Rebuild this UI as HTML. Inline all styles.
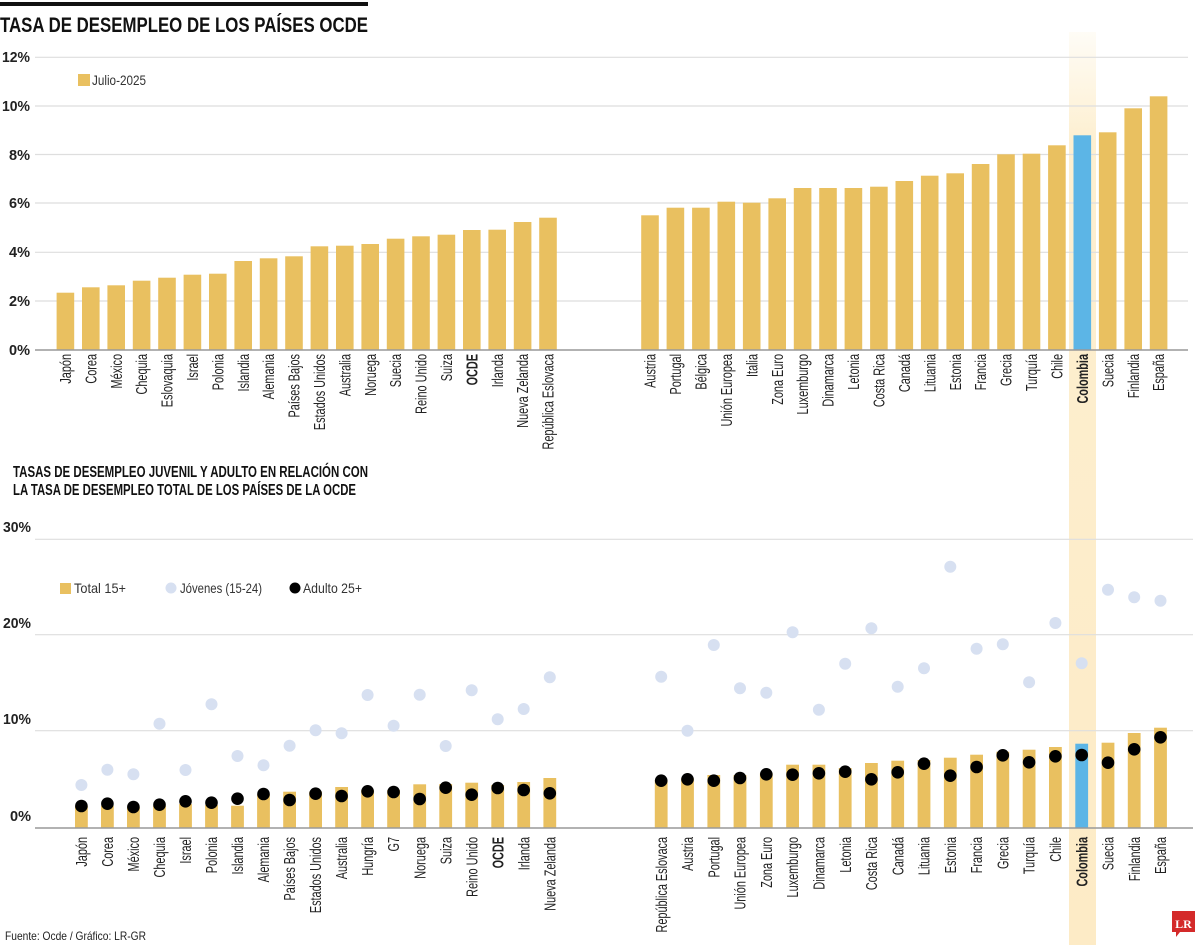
<!DOCTYPE html>
<html><head><meta charset="utf-8"><style>
html,body{margin:0;padding:0;background:#fff;}
svg{display:block;font-family:"Liberation Sans",sans-serif;}
.yl{font-size:15px;font-weight:bold;fill:#222;}
.xl text{font-size:16px;fill:#222;}
.b{font-weight:bold;}
</style></head><body>
<svg width="1200" height="945" viewBox="0 0 1200 945" xmlns="http://www.w3.org/2000/svg">
<defs><linearGradient id="hg" x1="0" y1="0" x2="0" y2="1"><stop offset="0" stop-color="#fdf0d2" stop-opacity="0.2"/><stop offset="0.12" stop-color="#fdefd0" stop-opacity="1"/><stop offset="1" stop-color="#fdebc6"/></linearGradient></defs>
<rect x="0" y="2" width="368" height="4" fill="#111"/>
<text x="0" y="32" font-size="21" font-weight="bold" fill="#111" textLength="368" lengthAdjust="spacingAndGlyphs">TASA DE DESEMPLEO DE LOS PAÍSES OCDE</text>
<rect x="1069" y="32" width="27" height="913" fill="url(#hg)"/>
<g stroke="#dedede" stroke-width="1.2">
<line x1="35" y1="57.3" x2="1188" y2="57.3"/><line x1="35" y1="106" x2="1188" y2="106"/><line x1="35" y1="154.5" x2="1188" y2="154.5"/><line x1="35" y1="203" x2="1188" y2="203"/><line x1="35" y1="252.3" x2="1188" y2="252.3"/><line x1="35" y1="301" x2="1188" y2="301"/>
</g>
<g class="yl">
<text x="2" y="62" textLength="28" lengthAdjust="spacingAndGlyphs">12%</text>
<text x="2" y="111" textLength="28" lengthAdjust="spacingAndGlyphs">10%</text>
<text x="9" y="160" textLength="21" lengthAdjust="spacingAndGlyphs">8%</text>
<text x="9" y="208" textLength="21" lengthAdjust="spacingAndGlyphs">6%</text>
<text x="9" y="257" textLength="21" lengthAdjust="spacingAndGlyphs">4%</text>
<text x="9" y="306" textLength="21" lengthAdjust="spacingAndGlyphs">2%</text>
<text x="9" y="355" textLength="21" lengthAdjust="spacingAndGlyphs">0%</text>
</g>
<rect x="78" y="74" width="12" height="12" fill="#e9c060"/>
<text x="92" y="85" font-size="14" fill="#333" textLength="54" lengthAdjust="spacingAndGlyphs">Julio-2025</text>
<g fill="#e9c060">
<rect x="56.6" y="292.7" width="17.6" height="57.3"/><rect x="82" y="287.3" width="17.6" height="62.7"/><rect x="107.4" y="285.3" width="17.6" height="64.7"/><rect x="132.8" y="280.7" width="17.6" height="69.3"/><rect x="158.2" y="277.7" width="17.6" height="72.3"/><rect x="183.6" y="274.7" width="17.6" height="75.3"/><rect x="209" y="273.7" width="17.6" height="76.3"/><rect x="234.4" y="261" width="17.6" height="89"/><rect x="259.8" y="258.3" width="17.6" height="91.7"/><rect x="285.2" y="256.3" width="17.6" height="93.7"/><rect x="310.6" y="246.3" width="17.6" height="103.7"/><rect x="336" y="245.7" width="17.6" height="104.3"/><rect x="361.4" y="244" width="17.6" height="106"/><rect x="386.8" y="238.7" width="17.6" height="111.3"/><rect x="412.2" y="236.3" width="17.6" height="113.7"/><rect x="437.6" y="234.7" width="17.6" height="115.3"/><rect x="463" y="230" width="17.6" height="120"/><rect x="488.4" y="229.7" width="17.6" height="120.3"/><rect x="513.8" y="222" width="17.6" height="128"/><rect x="539.2" y="217.7" width="17.6" height="132.3"/>
<rect x="641.2" y="215.3" width="17.6" height="134.7"/><rect x="666.6" y="207.7" width="17.6" height="142.3"/><rect x="692.1" y="207.7" width="17.6" height="142.3"/><rect x="717.5" y="201.7" width="17.6" height="148.3"/><rect x="742.9" y="202.7" width="17.6" height="147.3"/><rect x="768.4" y="198.3" width="17.6" height="151.7"/><rect x="793.8" y="188" width="17.6" height="162"/><rect x="819.2" y="188" width="17.6" height="162"/><rect x="844.6" y="188" width="17.6" height="162"/><rect x="870.1" y="186.7" width="17.6" height="163.3"/><rect x="895.5" y="181" width="17.6" height="169"/><rect x="920.9" y="175.7" width="17.6" height="174.3"/><rect x="946.4" y="173.3" width="17.6" height="176.7"/><rect x="971.8" y="164" width="17.6" height="186"/><rect x="997.2" y="154.3" width="17.6" height="195.7"/><rect x="1022.7" y="153.7" width="17.6" height="196.3"/><rect x="1048.1" y="145.3" width="17.6" height="204.7"/><rect x="1073.5" y="135.3" width="17.6" height="214.7" fill="#5cb5e6"/><rect x="1098.9" y="132.3" width="17.6" height="217.7"/><rect x="1124.4" y="108.3" width="17.6" height="241.7"/><rect x="1149.8" y="96.3" width="17.6" height="253.7"/>
</g>
<line x1="35" y1="350" x2="1188" y2="350" stroke="#999" stroke-width="1.5"/>
<g class="xl" text-anchor="end">
<text transform="translate(71,354) rotate(-90) scale(0.68,1)">Japón</text>
<text transform="translate(96.4,354) rotate(-90) scale(0.68,1)">Corea</text>
<text transform="translate(121.8,354) rotate(-90) scale(0.68,1)">México</text>
<text transform="translate(147.2,354) rotate(-90) scale(0.68,1)">Chequia</text>
<text transform="translate(172.6,354) rotate(-90) scale(0.68,1)">Eslovaquia</text>
<text transform="translate(198,354) rotate(-90) scale(0.68,1)">Israel</text>
<text transform="translate(223.4,354) rotate(-90) scale(0.68,1)">Polonia</text>
<text transform="translate(248.8,354) rotate(-90) scale(0.68,1)">Islandia</text>
<text transform="translate(274.2,354) rotate(-90) scale(0.68,1)">Alemania</text>
<text transform="translate(299.6,354) rotate(-90) scale(0.68,1)">Países Bajos</text>
<text transform="translate(325,354) rotate(-90) scale(0.68,1)">Estados Unidos</text>
<text transform="translate(350.4,354) rotate(-90) scale(0.68,1)">Australia</text>
<text transform="translate(375.8,354) rotate(-90) scale(0.68,1)">Noruega</text>
<text transform="translate(401.2,354) rotate(-90) scale(0.68,1)">Suecia</text>
<text transform="translate(426.6,354) rotate(-90) scale(0.68,1)">Reino Unido</text>
<text transform="translate(452,354) rotate(-90) scale(0.68,1)">Suiza</text>
<text class="b" transform="translate(477.4,354) rotate(-90) scale(0.68,1)">OCDE</text>
<text transform="translate(502.8,354) rotate(-90) scale(0.68,1)">Irlanda</text>
<text transform="translate(528.2,354) rotate(-90) scale(0.68,1)">Nueva Zelanda</text>
<text transform="translate(553.6,354) rotate(-90) scale(0.68,1)">República Eslovaca</text>
<text transform="translate(655.6,354) rotate(-90) scale(0.68,1)">Austria</text>
<text transform="translate(681,354) rotate(-90) scale(0.68,1)">Portugal</text>
<text transform="translate(706.5,354) rotate(-90) scale(0.68,1)">Bélgica</text>
<text transform="translate(731.9,354) rotate(-90) scale(0.68,1)">Unión Europea</text>
<text transform="translate(757.3,354) rotate(-90) scale(0.68,1)">Italia</text>
<text transform="translate(782.8,354) rotate(-90) scale(0.68,1)">Zona Euro</text>
<text transform="translate(808.2,354) rotate(-90) scale(0.68,1)">Luxemburgo</text>
<text transform="translate(833.6,354) rotate(-90) scale(0.68,1)">Dinamarca</text>
<text transform="translate(859,354) rotate(-90) scale(0.68,1)">Letonia</text>
<text transform="translate(884.5,354) rotate(-90) scale(0.68,1)">Costa Rica</text>
<text transform="translate(909.9,354) rotate(-90) scale(0.68,1)">Canadá</text>
<text transform="translate(935.3,354) rotate(-90) scale(0.68,1)">Lituania</text>
<text transform="translate(960.8,354) rotate(-90) scale(0.68,1)">Estonia</text>
<text transform="translate(986.2,354) rotate(-90) scale(0.68,1)">Francia</text>
<text transform="translate(1011.6,354) rotate(-90) scale(0.68,1)">Grecia</text>
<text transform="translate(1037.1,354) rotate(-90) scale(0.68,1)">Turquía</text>
<text transform="translate(1062.5,354) rotate(-90) scale(0.68,1)">Chile</text>
<text class="b" transform="translate(1087.9,354) rotate(-90) scale(0.68,1)">Colombia</text>
<text transform="translate(1113.3,354) rotate(-90) scale(0.68,1)">Suecia</text>
<text transform="translate(1138.8,354) rotate(-90) scale(0.68,1)">Finlandia</text>
<text transform="translate(1164.2,354) rotate(-90) scale(0.68,1)">España</text>
</g>

<text x="13" y="477" font-size="16" font-weight="bold" fill="#111" textLength="355" lengthAdjust="spacingAndGlyphs">TASAS DE DESEMPLEO JUVENIL Y ADULTO EN RELACIÓN CON</text>
<text x="13" y="495" font-size="16" font-weight="bold" fill="#111" textLength="343" lengthAdjust="spacingAndGlyphs">LA TASA DE DESEMPLEO TOTAL DE LOS PAÍSES DE LA OCDE</text>
<g stroke="#dedede" stroke-width="1.2">
<line x1="35" y1="539.3" x2="1193" y2="539.3"/><line x1="35" y1="634.7" x2="1193" y2="634.7"/><line x1="35" y1="730.7" x2="1193" y2="730.7"/>
</g>
<g class="yl">
<text x="3" y="532" textLength="28" lengthAdjust="spacingAndGlyphs">30%</text>
<text x="3" y="628" textLength="28" lengthAdjust="spacingAndGlyphs">20%</text>
<text x="3" y="724" textLength="28" lengthAdjust="spacingAndGlyphs">10%</text>
<text x="10" y="821" textLength="21" lengthAdjust="spacingAndGlyphs">0%</text>
</g>
<rect x="60" y="583" width="11" height="11" fill="#e9c060"/>
<text x="74" y="593" font-size="14" fill="#333" textLength="52" lengthAdjust="spacingAndGlyphs">Total  15+</text>
<circle cx="171" cy="588" r="5.5" fill="#d7e0f1"/>
<text x="180" y="593" font-size="14" fill="#333" textLength="82" lengthAdjust="spacingAndGlyphs">Jóvenes (15-24)</text>
<circle cx="295" cy="588" r="5.5" fill="#000"/>
<text x="303" y="593" font-size="14" fill="#333" textLength="59" lengthAdjust="spacingAndGlyphs">Adulto 25+</text>
<g fill="#e9c060">
<rect x="75" y="805.7" width="12.8" height="22.3"/><rect x="101" y="805.7" width="12.8" height="22.3"/><rect x="127" y="806.7" width="12.8" height="21.3"/><rect x="153.1" y="805.7" width="12.8" height="22.3"/><rect x="179.1" y="804" width="12.8" height="24"/><rect x="205.1" y="805" width="12.8" height="23"/><rect x="231.1" y="805.7" width="12.8" height="22.3"/><rect x="257.1" y="794.3" width="12.8" height="33.7"/><rect x="283.2" y="791.7" width="12.8" height="36.3"/><rect x="309.2" y="791.7" width="12.8" height="36.3"/><rect x="335.2" y="787" width="12.8" height="41"/><rect x="361.2" y="790" width="12.8" height="38"/><rect x="387.2" y="790" width="12.8" height="38"/><rect x="413.3" y="784.3" width="12.8" height="43.7"/><rect x="439.3" y="784" width="12.8" height="44"/><rect x="465.3" y="782.7" width="12.8" height="45.3"/><rect x="491.3" y="785" width="12.8" height="43"/><rect x="517.3" y="782" width="12.8" height="46"/><rect x="543.4" y="778" width="12.8" height="50"/>
<rect x="654.8" y="780" width="12.8" height="48"/><rect x="681.1" y="778.3" width="12.8" height="49.7"/><rect x="707.4" y="775" width="12.8" height="53"/><rect x="733.6" y="775" width="12.8" height="53"/><rect x="759.9" y="773.3" width="12.8" height="54.7"/><rect x="786.2" y="764.7" width="12.8" height="63.3"/><rect x="812.5" y="764.7" width="12.8" height="63.3"/><rect x="838.8" y="768" width="12.8" height="60"/><rect x="865" y="763" width="12.8" height="65"/><rect x="891.3" y="760.7" width="12.8" height="67.3"/><rect x="917.6" y="760" width="12.8" height="68"/><rect x="943.9" y="757.7" width="12.8" height="70.3"/><rect x="970.2" y="754.7" width="12.8" height="73.3"/><rect x="996.4" y="751.7" width="12.8" height="76.3"/><rect x="1022.7" y="749.7" width="12.8" height="78.3"/><rect x="1049" y="747" width="12.8" height="81"/><rect x="1075.3" y="743.7" width="12.8" height="84.3" fill="#5cb5e6"/><rect x="1101.6" y="742.7" width="12.8" height="85.3"/><rect x="1127.8" y="733" width="12.8" height="95"/><rect x="1154.1" y="727.7" width="12.8" height="100.3"/>
</g>
<g fill="#d7e0f1">
<circle cx="81.4" cy="785" r="6"/><circle cx="107.4" cy="769.7" r="6"/><circle cx="133.4" cy="774.3" r="6"/><circle cx="159.5" cy="723.7" r="6"/><circle cx="185.5" cy="770" r="6"/><circle cx="211.5" cy="704.3" r="6"/><circle cx="237.5" cy="756" r="6"/><circle cx="263.5" cy="765.3" r="6"/><circle cx="289.6" cy="745.7" r="6"/><circle cx="315.6" cy="730.3" r="6"/><circle cx="341.6" cy="733.3" r="6"/><circle cx="367.6" cy="695" r="6"/><circle cx="393.6" cy="725.7" r="6"/><circle cx="419.7" cy="694.7" r="6"/><circle cx="445.7" cy="746" r="6"/><circle cx="471.7" cy="690.3" r="6"/><circle cx="497.7" cy="719.3" r="6"/><circle cx="523.7" cy="709" r="6"/><circle cx="549.8" cy="677.3" r="6"/>
<circle cx="661.2" cy="676.7" r="6"/><circle cx="687.5" cy="730.7" r="6"/><circle cx="713.8" cy="645" r="6"/><circle cx="740" cy="688.3" r="6"/><circle cx="766.3" cy="692.7" r="6"/><circle cx="792.6" cy="632.3" r="6"/><circle cx="818.9" cy="709.7" r="6"/><circle cx="845.2" cy="663.7" r="6"/><circle cx="871.4" cy="628.3" r="6"/><circle cx="897.7" cy="686.7" r="6"/><circle cx="924" cy="668.3" r="6"/><circle cx="950.3" cy="566.7" r="6"/><circle cx="976.6" cy="648.7" r="6"/><circle cx="1002.8" cy="644.3" r="6"/><circle cx="1029.1" cy="682.3" r="6"/><circle cx="1055.4" cy="623" r="6"/><circle cx="1081.7" cy="663.3" r="6"/><circle cx="1108" cy="589.7" r="6"/><circle cx="1134.2" cy="597.3" r="6"/><circle cx="1160.5" cy="600.7" r="6"/>
</g>
<g fill="#000">
<circle cx="81.4" cy="806" r="6.3"/><circle cx="107.4" cy="803.7" r="6.3"/><circle cx="133.4" cy="807" r="6.3"/><circle cx="159.5" cy="804.7" r="6.3"/><circle cx="185.5" cy="801.3" r="6.3"/><circle cx="211.5" cy="802.7" r="6.3"/><circle cx="237.5" cy="798.7" r="6.3"/><circle cx="263.5" cy="794" r="6.3"/><circle cx="289.6" cy="800" r="6.3"/><circle cx="315.6" cy="793.7" r="6.3"/><circle cx="341.6" cy="796" r="6.3"/><circle cx="367.6" cy="791.3" r="6.3"/><circle cx="393.6" cy="792" r="6.3"/><circle cx="419.7" cy="799" r="6.3"/><circle cx="445.7" cy="787.7" r="6.3"/><circle cx="471.7" cy="794.7" r="6.3"/><circle cx="497.7" cy="788" r="6.3"/><circle cx="523.7" cy="790" r="6.3"/><circle cx="549.8" cy="793.3" r="6.3"/>
<circle cx="661.2" cy="780.7" r="6.3"/><circle cx="687.5" cy="779.3" r="6.3"/><circle cx="713.8" cy="780.7" r="6.3"/><circle cx="740" cy="778" r="6.3"/><circle cx="766.3" cy="774.3" r="6.3"/><circle cx="792.6" cy="774.7" r="6.3"/><circle cx="818.9" cy="773.3" r="6.3"/><circle cx="845.2" cy="771.7" r="6.3"/><circle cx="871.4" cy="779.3" r="6.3"/><circle cx="897.7" cy="772.3" r="6.3"/><circle cx="924" cy="763.7" r="6.3"/><circle cx="950.3" cy="775.7" r="6.3"/><circle cx="976.6" cy="767" r="6.3"/><circle cx="1002.8" cy="755.3" r="6.3"/><circle cx="1029.1" cy="762.3" r="6.3"/><circle cx="1055.4" cy="756.3" r="6.3"/><circle cx="1081.7" cy="755" r="6.3"/><circle cx="1108" cy="762.7" r="6.3"/><circle cx="1134.2" cy="749.3" r="6.3"/><circle cx="1160.5" cy="737.3" r="6.3"/>
</g>
<line x1="35" y1="828" x2="1193" y2="828" stroke="#999" stroke-width="1.5"/>
<g class="xl" text-anchor="end">
<text transform="translate(87,837) rotate(-90) scale(0.68,1)">Japón</text>
<text transform="translate(113,837) rotate(-90) scale(0.68,1)">Corea</text>
<text transform="translate(139,837) rotate(-90) scale(0.68,1)">México</text>
<text transform="translate(165.1,837) rotate(-90) scale(0.68,1)">Chequia</text>
<text transform="translate(191.1,837) rotate(-90) scale(0.68,1)">Israel</text>
<text transform="translate(217.1,837) rotate(-90) scale(0.68,1)">Polonia</text>
<text transform="translate(243.1,837) rotate(-90) scale(0.68,1)">Islandia</text>
<text transform="translate(269.1,837) rotate(-90) scale(0.68,1)">Alemania</text>
<text transform="translate(295.2,837) rotate(-90) scale(0.68,1)">Países Bajos</text>
<text transform="translate(321.2,837) rotate(-90) scale(0.68,1)">Estados Unidos</text>
<text transform="translate(347.2,837) rotate(-90) scale(0.68,1)">Australia</text>
<text transform="translate(373.2,837) rotate(-90) scale(0.68,1)">Hungría</text>
<text transform="translate(399.2,837) rotate(-90) scale(0.68,1)">G7</text>
<text transform="translate(425.3,837) rotate(-90) scale(0.68,1)">Noruega</text>
<text transform="translate(451.3,837) rotate(-90) scale(0.68,1)">Suiza</text>
<text transform="translate(477.3,837) rotate(-90) scale(0.68,1)">Reino Unido</text>
<text class="b" transform="translate(503.3,837) rotate(-90) scale(0.68,1)">OCDE</text>
<text transform="translate(529.3,837) rotate(-90) scale(0.68,1)">Irlanda</text>
<text transform="translate(555.4,837) rotate(-90) scale(0.68,1)">Nueva Zelanda</text>
<text transform="translate(666.8,837) rotate(-90) scale(0.68,1)">República Eslovaca</text>
<text transform="translate(693.1,837) rotate(-90) scale(0.68,1)">Austria</text>
<text transform="translate(719.4,837) rotate(-90) scale(0.68,1)">Portugal</text>
<text transform="translate(745.6,837) rotate(-90) scale(0.68,1)">Unión Europea</text>
<text transform="translate(771.9,837) rotate(-90) scale(0.68,1)">Zona Euro</text>
<text transform="translate(798.2,837) rotate(-90) scale(0.68,1)">Luxemburgo</text>
<text transform="translate(824.5,837) rotate(-90) scale(0.68,1)">Dinamarca</text>
<text transform="translate(850.8,837) rotate(-90) scale(0.68,1)">Letonia</text>
<text transform="translate(877,837) rotate(-90) scale(0.68,1)">Costa Rica</text>
<text transform="translate(903.3,837) rotate(-90) scale(0.68,1)">Canadá</text>
<text transform="translate(929.6,837) rotate(-90) scale(0.68,1)">Lituania</text>
<text transform="translate(955.9,837) rotate(-90) scale(0.68,1)">Estonia</text>
<text transform="translate(982.2,837) rotate(-90) scale(0.68,1)">Francia</text>
<text transform="translate(1008.4,837) rotate(-90) scale(0.68,1)">Grecia</text>
<text transform="translate(1034.7,837) rotate(-90) scale(0.68,1)">Turquía</text>
<text transform="translate(1061,837) rotate(-90) scale(0.68,1)">Chile</text>
<text class="b" transform="translate(1087.3,837) rotate(-90) scale(0.68,1)">Colombia</text>
<text transform="translate(1113.6,837) rotate(-90) scale(0.68,1)">Suecia</text>
<text transform="translate(1139.8,837) rotate(-90) scale(0.68,1)">Finlandia</text>
<text transform="translate(1166.1,837) rotate(-90) scale(0.68,1)">España</text>
</g>
<text x="5" y="940" font-size="12" fill="#222" textLength="141" lengthAdjust="spacingAndGlyphs">Fuente: Ocde / Gráfico: LR-GR</text>
<path d="M1172 911 H1195 V932 H1180 L1176 937 V932 H1172 Z" fill="#d42a2a"/>
<text x="1183.5" y="928" font-size="12" font-weight="bold" fill="#fff" text-anchor="middle" font-family="Liberation Serif,serif">LR</text>
</svg>
</body></html>
